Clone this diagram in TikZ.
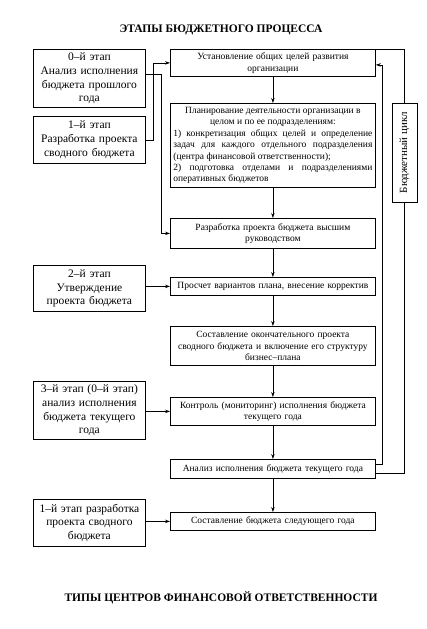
\documentclass[tikz,border=0pt]{standalone}
\usepackage{fontspec}
\setmainfont{Liberation Serif}
\usepackage{tikz}
\usetikzlibrary{arrows.meta}

\tikzset{
  lbox/.style={draw,line width=0.8pt,anchor=north west,text width=106pt,inner xsep=3pt,inner ysep=1pt,align=center,font=\fontsize{11.5}{13.8}\selectfont},
  cbox/.style={draw,line width=0.8pt,anchor=north west,text width=199pt,inner xsep=3pt,inner ysep=1pt,align=center,font=\fontsize{9.5}{11.5}\selectfont},
  heading/.style={font=\fontsize{11.5}{13}\selectfont\bfseries},
  conn/.style={line width=0.8pt},
}

\begin{document}
\begin{tikzpicture}[x=1pt,y=-1pt,>={Stealth[length=5pt,width=3.5pt]}]
\useasboundingbox (0,0) rectangle (427,629);
\node[heading] (t1) at (221,30) {ЭТАПЫ БЮДЖЕТНОГО ПРОЦЕССА};
\node[heading] (t2) at (221,598) {ТИПЫ ЦЕНТРОВ ФИНАНСОВОЙ ОТВЕТСТВЕННОСТИ};

\node[lbox,minimum height=58pt] (b0) at (33,49) {0–й этап\\Анализ исполнения\\бюджета прошлого\\года};
\node[lbox,minimum height=47pt] (b1) at (33,116) {1–й этап\\Разработка проекта\\сводного бюджета};
\node[lbox,minimum height=46pt] (b2) at (33,265) {2–й этап\\Утверждение\\проекта бюджета};
\node[lbox,minimum height=58pt] (b3) at (33,381) {3–й этап (0–й этап)\\анализ исполнения\\бюджета текущего\\года};
\node[lbox,minimum height=47pt] (b4) at (33,499) {1–й этап разработка\\проекта сводного\\бюджета};

\node[cbox,minimum height=27pt] (c1) at (170,49) {Установление общих целей развития\\организации};
\node[cbox,minimum height=84pt,align=justify] (c2) at (170,103) {{\centering Планирование деятельности организации в\\целом и по ее подразделениям:\par}1) конкретизация общих целей и определение\linebreak задач для каждого отдельного подразделения\linebreak (центра финансовой ответственности);\par 2) подготовка отделами и подразделениями\linebreak оперативных бюджетов};
\node[cbox,minimum height=30pt] (c3) at (170,218) {Разработка проекта бюджета высшим\\руководством};
\node[cbox,minimum height=18pt] (c4) at (170,277) {Просчет вариантов плана, внесение корректив};
\node[cbox,minimum height=39pt] (c5) at (170,326) {Составление окончательного проекта\\сводного бюджета и включение его структуру\\бизнес–плана};
\node[cbox,minimum height=28pt] (c6) at (170,397) {Контроль (мониторинг) исполнения бюджета\\текущего года};
\node[cbox,minimum height=19pt] (c7) at (170,459) {Анализ исполнения бюджета текущего года};
\node[cbox,minimum height=18pt] (c8) at (170,512) {Составление бюджета следующего года};

\node[draw,line width=0.8pt,rotate=90,minimum width=99pt,minimum height=25pt,inner sep=1pt,font=\fontsize{11}{13}\selectfont] (cyc) at (404.5,152.5) {Бюджетный цикл};

\draw[conn,->] (c1) -- (c2);
\draw[conn,->] (c2) -- (c3);
\draw[conn,->] (c3) -- (c4);
\draw[conn,->] (c4) -- (c5);
\draw[conn,->] (c5) -- (c6);
\draw[conn,->] (c6) -- (c7);
\draw[conn,->] (c7) -- (c8);

\draw[conn,->] ([yshift=4pt]b0.east) -- ++(16,0) |- (c3.west);
\draw[conn,->] (b1.east) -- ++(8,0) |- (c1.west);
\draw[conn,->] (b2.east |- c4.west) -- (c4.west);
\draw[conn,->] (b3.east |- c6.west) -- (c6.west);
\draw[conn,->] (b4.east |- c8.west) -- (c8.west);

\draw[conn,->] ([yshift=5pt]c7.east) -- ++(7,0) |- ([yshift=-2pt]c1.east);
\draw[conn] ([yshift=-4pt]c7.east) -| (cyc);
\draw[conn] (cyc) |- (c1.north east);
\end{tikzpicture}
\end{document}
